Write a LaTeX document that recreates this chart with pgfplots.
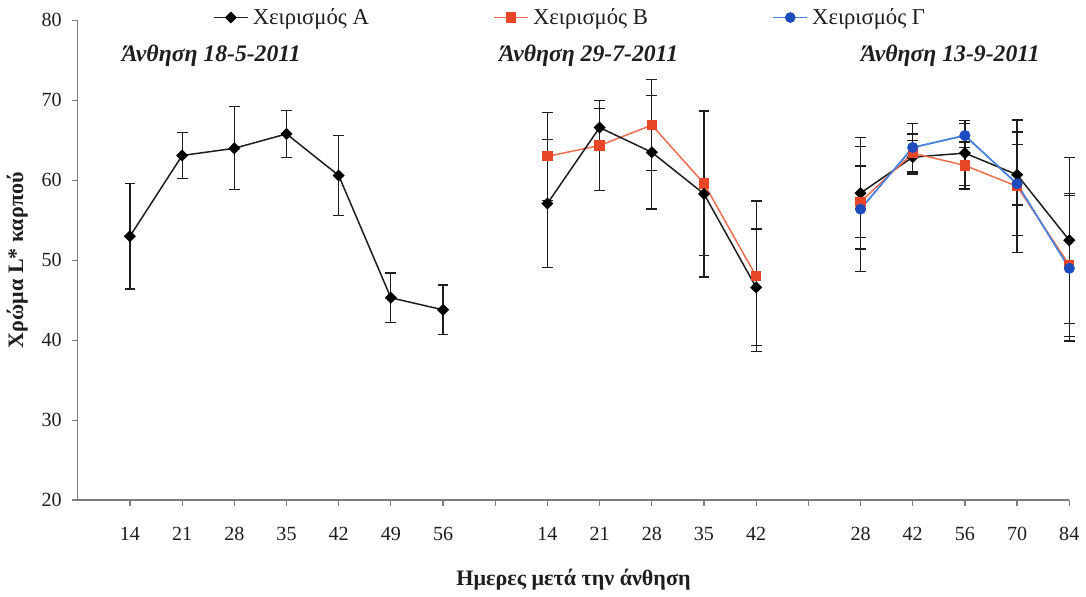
\documentclass[border=0pt]{standalone}
\usepackage{pgfplots}
\pgfplotsset{compat=1.18}
\usepackage{fontspec}
\setmainfont{Liberation Serif}
\definecolor{axgray}{RGB}{125,125,125}
\definecolor{redm}{RGB}{232,70,40}
\definecolor{redl}{RGB}{240,110,80}
\definecolor{bluem}{RGB}{30,75,190}
\definecolor{bluel}{RGB}{70,130,225}
\definecolor{blk}{RGB}{30,30,30}
\begin{document}
\begin{tikzpicture}
\begin{axis}[
  scale only axis,
  width=494pt, height=239pt,
  xmin=0, xmax=19, ymin=20, ymax=80,
  clip=false,
  axis x line*=bottom, axis y line*=left,
  axis line style={axgray, line width=0.6pt, -},
  tick style={axgray, line width=0.6pt},
  tick align=outside,
  major tick length=3pt,
  xtick={1,...,19},
  xticklabels={14,21,28,35,42,49,56,,14,21,28,35,42,,28,42,56,70,84},
  ytick={20,30,...,80},
  /pgf/number format/assume math mode=true,
  ticklabel style={font=\fontsize{10}{12}\selectfont, text=blk},
  xticklabel style={yshift=-7pt},
  yticklabel style={xshift=-1.5pt},
  xlabel={Ημερες μετά την άνθηση},
  ylabel={Χρώμα L* καρπού},
  label style={font=\fontsize{11}{13}\selectfont\bfseries, text=blk},
  xlabel style={yshift=-7pt},
  ylabel style={yshift=0pt},
  legend columns=3,
  legend style={draw=none, fill=none, at={(axis description cs:0.13,1.006)}, anchor=west,
    font=\fontsize{11.3}{13}\selectfont, text=blk,
    /tikz/every even column/.append style={column sep=60pt}},
  legend image post style={line width=0.7pt},
  error bars/error bar style={blk, line width=0.6pt},
  error bars/error mark options={rotate=90, mark size=2.7pt, blk, line width=0.6pt},
]
% Treatment A
\addplot[blk, line width=0.75pt, mark=square*, mark size=1.75pt, mark options={fill=black, draw=black, rotate=45},
  error bars/.cd, y dir=both, y explicit]
  table[x=x, y=y, y error=e] {
x y e
1 53.0 6.6
2 63.1 2.9
3 64.0 5.2
4 65.8 2.95
5 60.6 5.0
6 45.3 3.1
7 43.8 3.1
};
\addlegendentry{Χειρισμός Α}
% Treatment B
\addplot[redl, line width=0.75pt, mark=square*, mark size=2.2pt, mark options={fill=redm, draw=redm},
  error bars/.cd, y dir=both, y explicit]
  table[x=x, y=y, y error=e] {
x y e
9 63.0 5.5
10 64.35 5.6
11 66.9 5.7
12 59.6 9.0
13 48.0 9.4
};
\addlegendentry{Χειρισμός Β\hspace{8pt}}
% Treatment C
\addplot[bluel, line width=0.75pt, mark=*, mark size=2.3pt, mark options={fill=bluem, draw=bluem},
  error bars/.cd, y dir=both, y explicit]
  table[x=x, y=y, y error=e] {
x y e
15 56.4 7.8
16 64.1 3.0
17 65.6 1.5
18 59.55 6.5
19 49.0 9.1
};
\addlegendentry{Χειρισμός Γ}
% A group 2
\addplot[blk, line width=0.75pt, mark=square*, mark size=1.75pt, mark options={fill=black, draw=black, rotate=45}, forget plot,
  error bars/.cd, y dir=both, y explicit]
  table[x=x, y=y, y error=e] {
x y e
9 57.1 8.0
10 66.6 2.4
11 63.5 7.1
12 58.3 10.4
13 46.6 7.3
};
% A group 3
\addplot[blk, line width=0.75pt, mark=square*, mark size=1.75pt, mark options={fill=black, draw=black, rotate=45}, forget plot,
  error bars/.cd, y dir=both, y explicit]
  table[x=x, y=y, y error=e] {
x y e
15 58.4 7.0
16 62.9 2.1
17 63.4 4.1
18 60.7 3.8
19 52.5 10.4
};
% B group 3
\addplot[redl, line width=0.75pt, mark=square*, mark size=2.2pt, mark options={fill=redm, draw=redm}, forget plot,
  error bars/.cd, y dir=both, y explicit]
  table[x=x, y=y, y error=e] {
x y e
15 57.3 4.5
16 63.4 2.4
17 61.85 2.95
18 59.25 8.3
19 49.4 8.9
};
% Re-draw blue on top
\addplot[bluel, line width=0.75pt, mark=*, mark size=2.3pt, mark options={fill=bluem, draw=bluem}, forget plot]
  table[x=x, y=y] {
x y
15 56.4
16 64.1
17 65.6
18 59.55
19 49.0
};
\node[font=\fontsize{11.8}{13}\selectfont\bfseries\itshape, text=blk] at (axis cs:2.56,75.6) {Άνθηση 18-5-2011};
\node[font=\fontsize{11.8}{13}\selectfont\bfseries\itshape, text=blk] at (axis cs:9.79,75.6) {Άνθηση 29-7-2011};
\node[font=\fontsize{11.8}{13}\selectfont\bfseries\itshape, text=blk] at (axis cs:16.72,75.6) {Άνθηση 13-9-2011};
\end{axis}
\end{tikzpicture}
\end{document}
